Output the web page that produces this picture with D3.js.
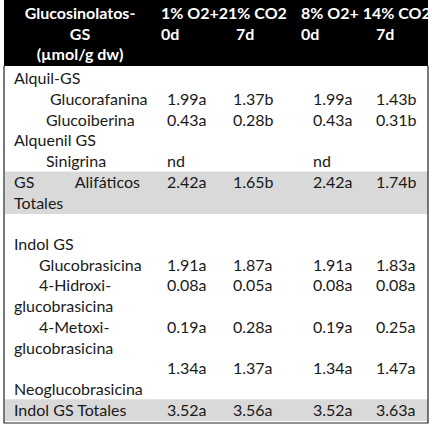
<!DOCTYPE html>
<html>
<head>
<meta charset="utf-8">
<script src="https://cdn.jsdelivr.net/npm/d3@7"></script>
<style>
  body { margin: 0; background: #fff; }
  text { font-family: Lato, "Open Sans", sans-serif; font-size: 16px; fill: #1a1a1a; }
</style>
</head>
<body>
<svg width="432" height="427"></svg>
<script>
// Header text
const headerLeft = ["Glucosinolatos-", "GS", "(µmol/g dw)"];
const groupLabels = ["1% O2+21% CO2", "8% O2+ 14% CO2"];
const dayLabels = ["0d", "7d", "0d", "7d"];

// Body rows: label, indent, values for the four columns, shaded
const rowLabels = ["Alquil-GS", "Glucorafanina", "Glucoiberina", "Alquenil GS", "Sinigrina",
  "GS          Alifáticos", "Totales", "", "Indol GS", "Glucobrasicina", "4-Hidroxi-",
  "glucobrasicina", "4-Metoxi-", "glucobrasicina", "", "Neoglucobrasicina", "Indol GS Totales"];
const rowIndent = [0, 36, 32, 0, 32, 0, 0, 0, 0, 25, 25, 0, 25, 0, 0, 0, 0];
const rowValues = [
  [], ["1.99a", "1.37b", "1.99a", "1.43b"], ["0.43a", "0.28b", "0.43a", "0.31b"], [],
  ["nd", "", "nd", ""], ["2.42a", "1.65b", "2.42a", "1.74b"], [], [], [],
  ["1.91a", "1.87a", "1.91a", "1.83a"], ["0.08a", "0.05a", "0.08a", "0.08a"], [],
  ["0.19a", "0.28a", "0.19a", "0.25a"], [], ["1.34a", "1.37a", "1.34a", "1.47a"], [],
  ["3.52a", "3.56a", "3.52a", "3.63a"]
];
const shadedRows = [[5, 6], [16, 16]];

const svg = d3.select("svg");
const left = 4, right = 428, headerH = 66, bottom = 423;

// Row position scale
const y = d3.scaleLinear().domain([0, rowLabels.length]).range([69, 421]);
const rowH = y(1) - y(0);
// Column x positions (left edge of text)
const colX = [167, 233, 313, 376];

// Header block
svg.append("rect").attr("x", left).attr("y", 0).attr("width", right - left).attr("height", headerH)
  .attr("fill", "#000");

svg.selectAll("text.hl").data(headerLeft).enter().append("text")
  .attr("x", 80).attr("y", (d, i) => 19 + i * 20.5)
  .attr("text-anchor", "middle").attr("font-weight", "bold").style("fill", "#fff")
  .text(d => d);

svg.selectAll("text.gl").data(groupLabels).enter().append("text")
  .attr("x", (d, i) => [161, 301][i]).attr("y", 19)
  .attr("font-weight", "bold").style("fill", "#fff").text(d => d);

svg.selectAll("text.dl").data(dayLabels).enter().append("text")
  .attr("x", (d, i) => [161, 236, 301, 376][i]).attr("y", 39.5)
  .attr("font-weight", "bold").style("fill", "#fff").text(d => d);

// Shaded rows
svg.selectAll("rect.shade").data(shadedRows).enter().append("rect")
  .attr("x", left + 1).attr("width", right - left - 1)
  .attr("y", d => y(d[0]) - 1).attr("height", d => y(d[1] + 1) - y(d[0]) + 1)
  .attr("fill", "#d9d9d9");

// Row labels
svg.selectAll("text.rl").data(rowLabels).enter().append("text")
  .attr("x", (d, i) => 14 + rowIndent[i])
  .attr("y", (d, i) => y(i) + rowH / 2 + 5)
  .style("white-space", "pre")
  .text(d => d);

// Values
rowValues.forEach((vals, i) => {
  svg.selectAll(null).data(vals).enter().append("text")
    .attr("x", (d, j) => colX[j])
    .attr("y", y(i) + rowH / 2 + 5)
    .text(d => d);
});

// Borders
svg.append("path")
  .attr("d", `M${left},${headerH}V${bottom}H${right}V${headerH}`)
  .attr("fill", "none").attr("stroke", "#222").attr("stroke-width", 1.2);
</script>
</body>
</html>
